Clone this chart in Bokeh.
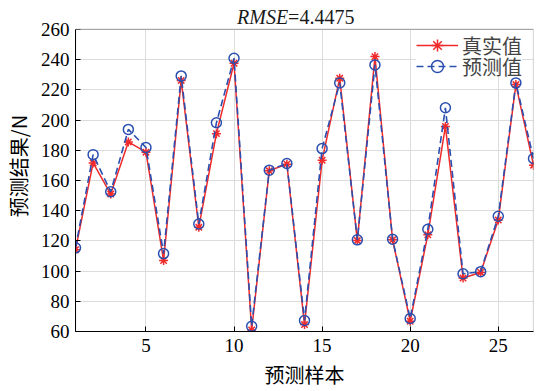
from bokeh.plotting import figure
from bokeh.models import (Range1d, FixedTicker, Label, Legend, LegendItem,
                          ColumnDataSource, BoxAnnotation)
from bokeh.embed import file_html
from bokeh.resources import INLINE

samples = list(range(1, 28))
true_vals = [114.1, 171.6, 151.0, 185.5, 178.7, 107.0, 226.2, 129.0, 191.0, 237.6,
             61.0, 166.4, 170.8, 64.6, 173.4, 227.7, 120.2, 242.0, 120.7, 66.8,
             124.0, 195.8, 95.4, 99.1, 133.8, 223.5, 170.1]
pred_vals = [115.4, 177.1, 152.5, 193.8, 181.8, 111.6, 229.2, 131.2, 198.2, 240.9,
             63.5, 166.8, 171.2, 67.3, 181.1, 224.6, 120.7, 236.5, 121.1, 68.6,
             127.7, 208.1, 98.2, 99.6, 136.3, 224.6, 174.5]
x_ticks = [5, 10, 15, 20, 25]
y_ticks = list(range(60, 261, 20))
x_min, x_max = 1, 27
y_min, y_max = 60, 260
rmse_name = "RMSE"
rmse_value = "=4.4475"

RED = "#f02a2a"
BLUE = "#2a4fb0"
SERIF = "Liberation Serif"
CJK = "Noto Sans CJK SC"

# frame reaches the top of the canvas; the axes box is drawn at y_min..y_max
TOP_PAD = 19.14   # data units of headroom above y_max for the title (29 px)

src = ColumnDataSource(dict(x=samples, t=true_vals, p=pred_vals))

p = figure(width=536, height=391, output_backend="svg", toolbar_location=None,
           x_range=Range1d(x_min, x_max), y_range=Range1d(y_min, y_max + TOP_PAD),
           min_border_left=73, min_border_right=3, min_border_top=0, min_border_bottom=59)
p.background_fill_color = "white"
p.border_fill_color = "white"
p.outline_line_color = None

for ax in (p.xaxis[0], p.yaxis[0]):
    ax.axis_line_color = "black"
    ax.major_tick_line_color = "black"
    ax.major_tick_in = 5
    ax.major_tick_out = 0
    ax.minor_tick_line_color = None
    ax.major_label_text_font = SERIF
    ax.major_label_text_font_size = "19px"
    ax.major_label_text_color = "black"
    ax.axis_label_text_font = CJK
    ax.axis_label_text_font_size = "20px"
    ax.axis_label_text_font_style = "normal"
    ax.axis_label_text_color = "black"

p.yaxis.bounds = (y_min, y_max)
p.xaxis.ticker = FixedTicker(ticks=x_ticks)
p.yaxis.ticker = FixedTicker(ticks=y_ticks)
p.xaxis.major_label_standoff = 7
p.yaxis.major_label_standoff = 6
p.xaxis.axis_label = "预测样本"
p.yaxis.axis_label = "预测结果/N"
p.xaxis.axis_label_standoff = 5
p.yaxis.axis_label_standoff = 5

p.xgrid.ticker = FixedTicker(ticks=x_ticks)
p.ygrid.ticker = FixedTicker(ticks=y_ticks)
p.grid.grid_line_color = "#dcdcdc"
p.grid.grid_line_width = 1

r1 = p.line("x", "t", source=src, line_color=RED, line_width=1.5)
r2 = p.scatter("x", "t", source=src, marker="asterisk", size=9, line_color=RED, line_width=1.5)
r3 = p.line("x", "p", source=src, line_color=BLUE, line_width=1.6, line_dash="7 4")
r4 = p.scatter("x", "p", source=src, marker="circle", size=10, fill_color=None,
               line_color=BLUE, line_width=1.5)

# white strip above the axes box (hides grid lines), then the axes box border
p.add_layout(BoxAnnotation(bottom=y_max, fill_color="white", fill_alpha=1,
                           line_alpha=0))
p.add_layout(BoxAnnotation(left=x_min, right=x_max, bottom=y_min, top=y_max,
                           fill_alpha=0, line_color="black", line_width=1.2))

legend_style = dict(margin=0, padding=0, spacing=0,
                    glyph_width=42, glyph_height=30, label_height=30, label_standoff=4,
                    label_text_font=CJK, label_text_font_size="20px",
                    border_line_alpha=0)
leg1 = Legend(items=[LegendItem(label="真实值", renderers=[r1, r2])],
              location=(341, 271), background_fill_color="white",
              background_fill_alpha=1, **legend_style)
leg2 = Legend(items=[LegendItem(label="预测值", renderers=[r3, r4])],
              location=(341, 250), background_fill_alpha=0, **legend_style)
p.add_layout(leg1)
p.add_layout(leg2)

p.add_layout(Label(x=13.07, y=268.0, text=rmse_name, text_align="right",
                   text_baseline="alphabetic", text_font=SERIF, text_font_size="20px",
                   text_font_style="italic", text_color="#1a1a1a"))
p.add_layout(Label(x=13.07, y=268.0, text=rmse_value, text_align="left",
                   text_baseline="alphabetic", text_font=SERIF, text_font_size="20px",
                   text_color="#1a1a1a"))

open("out.html", "w").write(file_html(p, INLINE))
